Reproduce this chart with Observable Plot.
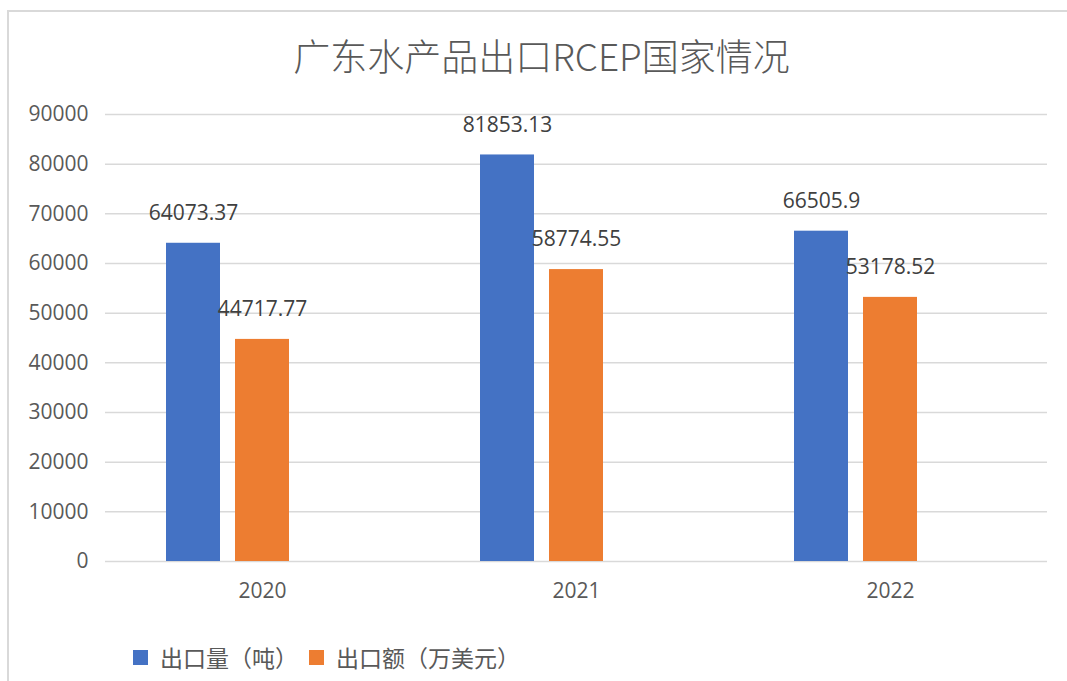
<!DOCTYPE html>
<html>
<head>
<meta charset="utf-8">
<script src="https://cdn.jsdelivr.net/npm/d3@7"></script>
<script src="https://cdn.jsdelivr.net/npm/@observablehq/plot@0.6"></script>
<style>
  html, body { margin: 0; padding: 0; background: #fff; }
  #wrap { position: relative; width: 1067px; height: 681px; overflow: hidden; background: #fff; }
  #frameTop { position: absolute; left: 8px; top: 10px; width: 1059px; height: 2px; background: #d9d9d9; }
  #frameLeft { position: absolute; left: 7px; top: 10px; width: 2px; height: 671px; background: #d9d9d9; }
  #title { position: absolute; left: 8px; width: 1067px; top: 32px; text-align: center;
           font-family: "Noto Sans CJK SC", sans-serif; font-weight: 300; font-size: 37px; line-height: 46px; color: #595959; }
  #chart { position: absolute; left: 0; top: 0; }
  #legend { position: absolute; left: 133px; top: 642px; font-family: "Noto Sans CJK SC", sans-serif;
            font-size: 23px; line-height: 30px; color: #595959; display: flex; align-items: center; }
  .sw { display: inline-block; width: 15px; height: 15px; margin-right: 12px; }
  .item { display: flex; align-items: center; margin-right: 11px; }
</style>
</head>
<body>
<div id="wrap">
  <div id="frameTop"></div>
  <div id="frameLeft"></div>
  <div id="title">广东水产品出口RCEP国家情况</div>
  <div id="chart"></div>
  <div id="legend"></div>
</div>
<script>
const years = ["2020", "2021", "2022"];
const exportVolume = [64073.37, 81853.13, 66505.9];   // 出口量（吨）
const exportValue = [44717.77, 58774.55, 53178.52];   // 出口额（万美元）
const seriesNames = ["出口量（吨）", "出口额（万美元）"];
const seriesColors = ["#4472C4", "#ED7D31"];
const yTicks = [0, 10000, 20000, 30000, 40000, 50000, 60000, 70000, 80000, 90000];

const data = years.flatMap((yr, i) => [
  {year: yr, series: seriesNames[0], v: exportVolume[i]},
  {year: yr, series: seriesNames[1], v: exportValue[i]}
]);

const chart = Plot.plot({
  width: 1067,
  height: 620,
  marginTop: 114,
  marginBottom: 59,
  marginLeft: 105,
  marginRight: 20,
  style: {fontFamily: "'Open Sans', sans-serif", background: "transparent"},
  fx: {domain: years, padding: 0, label: null},
  x: {domain: [...seriesNames, "_empty"], paddingInner: 0.223, paddingOuter: 0.87, axis: null},
  y: {domain: [0, 90000], label: null},
  color: {domain: seriesNames, range: seriesColors},
  marks: [
    Plot.gridY(yTicks, {stroke: "#d9d9d9", strokeOpacity: 1, strokeWidth: 1.5}),
    Plot.axisY(yTicks, {tickSize: 0, tickPadding: 17, fontSize: 21, fill: "#595959", label: null, tickFormat: d => String(d)}),
    Plot.axisFx({anchor: "bottom", tickSize: 0, tickPadding: 22, fontSize: 21, fill: "#595959", label: null}),
    Plot.barY(data, {fx: "year", x: "series", y: "v", fill: "series"}),
    Plot.text(data, {fx: "year", x: "series", y: "v", text: d => String(d.v), dy: -30,
                     fontSize: 21, fill: "#404040", lineAnchor: "middle"})
  ]
});
document.getElementById("chart").appendChild(chart);

const legend = document.getElementById("legend");
seriesNames.forEach((name, i) => {
  const item = document.createElement("div");
  item.className = "item";
  const sw = document.createElement("span");
  sw.className = "sw";
  sw.style.background = seriesColors[i];
  const label = document.createElement("span");
  label.textContent = name;
  item.appendChild(sw);
  item.appendChild(label);
  legend.appendChild(item);
});
</script>
</body>
</html>
